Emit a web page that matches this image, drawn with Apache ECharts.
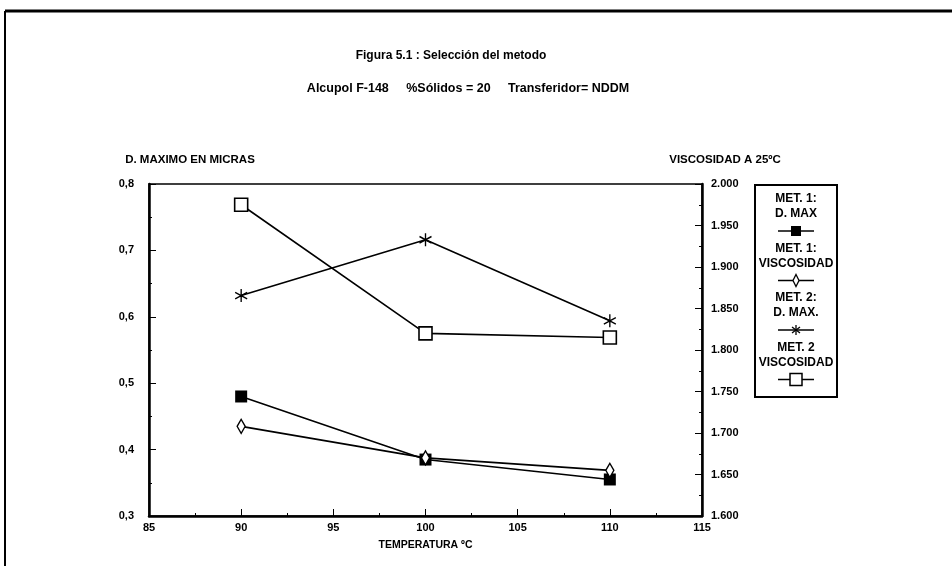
<!DOCTYPE html>
<html>
<head>
<meta charset="utf-8">
<script src="https://cdn.jsdelivr.net/npm/echarts@6/dist/echarts.min.js"></script>
<style>
  html, body { margin: 0; padding: 0; background: #fff; }
  #chart { width: 952px; height: 566px; }
</style>
</head>
<body>
<div id="chart"></div>
<script>
// Temperatures (ºC) on the x axis
const temperaturas = [90, 100, 110];
// Maximum diameter in microns (left axis)
const met1DMax = [0.48, 0.385, 0.355];
const met2DMax = [0.632, 0.716, 0.594];
// Viscosity at 25 ºC (right axis)
const met1Visc = [1708, 1670, 1655];
const met2Visc = [1975, 1820, 1815];
// Legend text, two lines per entry
const legendLines = [
  ['MET. 1:', 'D. MAX'],
  ['MET. 1:', 'VISCOSIDAD'],
  ['MET. 2:', 'D. MAX.'],
  ['MET. 2', 'VISCOSIDAD']
];
const titulo = 'Figura 5.1 : Selección del metodo';
const subtitulo = 'Alcupol F-148     %Sólidos = 20     Transferidor= NDDM';

const FONT = '"Liberation Sans", Arial, sans-serif';
const INK = '#000';

const pairs = (vals) => temperaturas.map((t, i) => [t, vals[i]]);

const asteriskPath = 'path://M0,-10 L0,10 M-8.66,-5 L8.66,5 M-8.66,5 L8.66,-5';
const diamondPath = 'path://M0,-10 L5,0 L0,10 L-5,0 Z';

const grid = { left: 149, right: 250, top: 184, bottom: 50 };

function lineSeries(name, data, yIdx, symbol, size, itemStyle) {
  return {
    name, type: 'line', data, yAxisIndex: yIdx,
    symbol, symbolSize: size, showSymbol: true,
    lineStyle: { color: INK, width: 1.6 },
    itemStyle,
    emphasis: { disabled: true },
    z: 3
  };
}

// Hand-built legend box on the right
const legendX = 755, legendY = 185, legendW = 82, legendH = 212;
const legendCx = legendX + legendW / 2;
const legendGraphics = [{
  type: 'rect',
  shape: { x: legendX, y: legendY, width: legendW, height: legendH },
  style: { fill: '#fff', stroke: INK, lineWidth: 2 }
}];
legendLines.forEach((lines, i) => {
  const base = legendY + 14 + i * 49.5;
  lines.forEach((txt, j) => {
    legendGraphics.push({
      type: 'text', x: legendCx, y: base + j * 15,
      style: { text: txt, fill: INK, font: 'bold 12px ' + FONT, align: 'center', verticalAlign: 'middle' }
    });
  });
  const sy = base + 32;
  legendGraphics.push({
    type: 'line', shape: { x1: legendCx - 18, y1: sy, x2: legendCx + 18, y2: sy },
    style: { stroke: INK, lineWidth: 1.5 }
  });
  if (i === 0) {
    legendGraphics.push({ type: 'rect', shape: { x: legendCx - 5, y: sy - 5, width: 10, height: 10 }, style: { fill: INK } });
  } else if (i === 1) {
    legendGraphics.push({ type: 'polygon', shape: { points: [[legendCx, sy - 6], [legendCx + 3, sy], [legendCx, sy + 6], [legendCx - 3, sy]] }, style: { fill: '#fff', stroke: INK, lineWidth: 1.3 } });
  } else if (i === 2) {
    legendGraphics.push({ type: 'line', shape: { x1: legendCx, y1: sy - 5, x2: legendCx, y2: sy + 5 }, style: { stroke: INK, lineWidth: 1.3 } });
    legendGraphics.push({ type: 'line', shape: { x1: legendCx - 4, y1: sy - 3, x2: legendCx + 4, y2: sy + 3 }, style: { stroke: INK, lineWidth: 1.3 } });
    legendGraphics.push({ type: 'line', shape: { x1: legendCx - 4, y1: sy + 3, x2: legendCx + 4, y2: sy - 3 }, style: { stroke: INK, lineWidth: 1.3 } });
  } else {
    legendGraphics.push({ type: 'rect', shape: { x: legendCx - 6, y: sy - 6, width: 12, height: 12 }, style: { fill: '#fff', stroke: INK, lineWidth: 1.5 } });
  }
});

const tickLabel = { fontFamily: FONT, fontSize: 11, fontWeight: 'bold', color: INK };

const chart = echarts.init(document.getElementById('chart'), null, { renderer: 'canvas' });
chart.setOption({
  backgroundColor: '#fff',
  animation: false,
  title: [
    { text: titulo, left: 446, top: 45, textAlign: 'center',
      textStyle: { fontFamily: FONT, fontSize: 12, fontWeight: 'bold', color: INK } },
    { text: subtitulo, left: 463, top: 77, textAlign: 'center',
      textStyle: { fontFamily: FONT, fontSize: 12.5, fontWeight: 'bold', color: INK } }
  ],
  grid: Object.assign({ show: true, borderColor: INK, borderWidth: 1.5, backgroundColor: 'transparent' }, grid),
  xAxis: {
    type: 'value', min: 85, max: 115, interval: 5,
    name: 'TEMPERATURA ºC', nameLocation: 'middle', nameGap: 24,
    nameTextStyle: { fontFamily: FONT, fontSize: 10.5, fontWeight: 'bold', color: INK },
    axisLine: { show: true, lineStyle: { color: INK, width: 2.5 } },
    axisTick: { show: true, inside: true, length: 7, lineStyle: { color: INK, width: 1 } },
    minorTick: { show: true, splitNumber: 2, length: 3, lineStyle: { color: INK } },
    splitLine: { show: false },
    axisLabel: Object.assign({ margin: 6 }, tickLabel)
  },
  yAxis: [
    {
      type: 'value', min: 0.3, max: 0.8, interval: 0.1, position: 'left',
      axisLine: { show: true, lineStyle: { color: INK, width: 2.5 } },
      axisTick: { show: true, inside: true, length: 7, lineStyle: { color: INK, width: 1 } },
      minorTick: { show: true, splitNumber: 2, length: 3, lineStyle: { color: INK } },
      splitLine: { show: false },
      axisLabel: Object.assign({ margin: 15, formatter: (v) => v.toFixed(1).replace('.', ',') }, tickLabel)
    },
    {
      type: 'value', min: 1600, max: 2000, interval: 50, position: 'right',
      axisLine: { show: true, lineStyle: { color: INK, width: 2.5 } },
      axisTick: { show: true, inside: true, length: 7, lineStyle: { color: INK, width: 1 } },
      minorTick: { show: true, splitNumber: 2, length: 3, lineStyle: { color: INK } },
      splitLine: { show: false },
      axisLabel: Object.assign({ margin: 9, formatter: (v) => (v / 1000).toFixed(3) }, tickLabel)
    }
  ],
  series: [
    lineSeries('MET. 1: D. MAX', pairs(met1DMax), 0, 'rect', 12,
      { color: INK, borderColor: INK, borderWidth: 0 }),
    lineSeries('MET. 1: VISCOSIDAD', pairs(met1Visc), 1, diamondPath, [8, 14],
      { color: '#fff', borderColor: INK, borderWidth: 1.5 }),
    lineSeries('MET. 2: D. MAX.', pairs(met2DMax), 0, asteriskPath, [12, 13],
      { color: INK, borderColor: INK, borderWidth: 1.4 }),
    lineSeries('MET. 2 VISCOSIDAD', pairs(met2Visc), 1, 'rect', 13,
      { color: '#fff', borderColor: INK, borderWidth: 1.6 })
  ],
  graphic: [
    // page frame (top and left edges)
    { type: 'line', shape: { x1: 5, y1: 11, x2: 952, y2: 11 }, style: { stroke: INK, lineWidth: 3 } },
    { type: 'line', shape: { x1: 5, y1: 11, x2: 5, y2: 566 }, style: { stroke: INK, lineWidth: 2 } },
    // axis captions
    { type: 'text', x: 190, y: 160,
      style: { text: 'D. MAXIMO EN MICRAS', fill: INK, font: 'bold 11.5px ' + FONT, align: 'center', verticalAlign: 'middle' } },
    { type: 'text', x: 725, y: 160,
      style: { text: 'VISCOSIDAD A 25ºC', fill: INK, font: 'bold 11.5px ' + FONT, align: 'center', verticalAlign: 'middle' } }
  ].concat(legendGraphics)
});
</script>
</body>
</html>
